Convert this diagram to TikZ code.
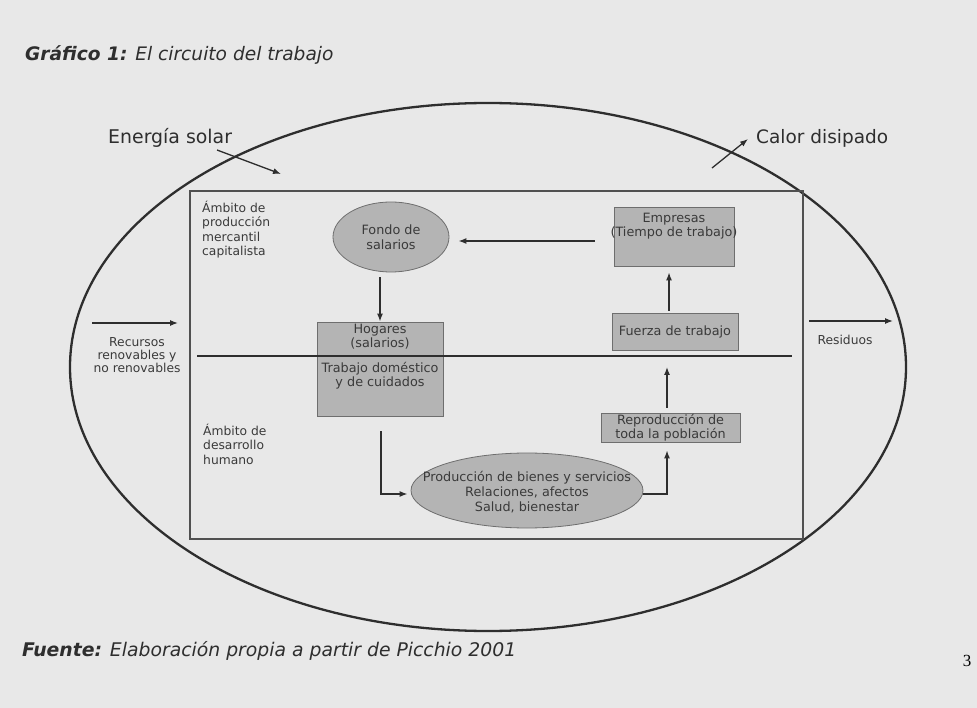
\documentclass[tikz,border=0pt]{standalone}
\usepackage{fontspec}
\setmainfont{DejaVu Sans}[BoldFont={DejaVu Sans Bold},ItalicFont={DejaVu Sans Oblique},BoldItalicFont={DejaVu Sans Bold Oblique}]
\newfontfamily\pagefont{Liberation Serif}
\usetikzlibrary{shapes.geometric,arrows.meta}
\definecolor{bg}{HTML}{E8E8E8}
\definecolor{ink}{HTML}{2E2E2E}
\definecolor{framec}{HTML}{505050}
\definecolor{boxfill}{HTML}{B4B4B4}
\definecolor{boxline}{HTML}{6E6E6E}
\definecolor{txt}{HTML}{3A3A3A}
\begin{document}
\begin{tikzpicture}[x=1pt,y=-1pt,
  lbl/.style={font=\fontsize{12.3}{14.3}\selectfont, text=txt, align=center, inner sep=0pt},
  blbl/.style={lbl, font=\fontsize{12.8}{14.5}\selectfont},
  lblleft/.style={lbl, align=left},
  gbox/.style={draw=boxline, fill=boxfill, line width=0.8pt, inner sep=0pt},
  arr/.style={draw=ink, line width=1.3pt, -{Latex[length=8pt,width=6pt]}},
  bigtext/.style={font=\fontsize{18.9}{22}\selectfont, text=ink, inner sep=0pt}]
\fill[bg] (0,0) rectangle (977,708);
\useasboundingbox (0,0) rectangle (977,708);

% title
\node[anchor=west, font=\fontsize{18.6}{22}\selectfont, text=ink, inner sep=0pt] (title) at (25,55)
  {\textbf{\textit{Gráfico 1:}} \textit{El circuito del trabajo}};

% world ellipse and frame
\node[ellipse, draw=ink, line width=2.3pt, minimum width=836pt, minimum height=528pt, inner sep=0pt] (world) at (488,367) {};
\node[draw=framec, line width=1.6pt, minimum width=613pt, minimum height=348pt, inner sep=0pt] (frame) at (496.5,365) {};

% boxes
\node[gbox, ellipse, minimum width=116pt, minimum height=70pt] (fondo) at (391,237) {};
\node[blbl] (fondotxt) at (fondo.center) {Fondo de\\salarios};
\node[gbox, minimum width=120pt, minimum height=59pt] (emp) at (674,236.5) {};
\node[blbl, anchor=north] (emptxt) at ([yshift=-6pt]emp.north) {Empresas\\(Tiempo de trabajo)};
\node[gbox, minimum width=126pt, minimum height=37pt] (fuerza) at (675,331.5) {};
\node[blbl] (fuerzatxt) at (fuerza.center) {Fuerza de trabajo};
\node[gbox, minimum width=126pt, minimum height=94pt] (hog) at (380,369) {};
\node[blbl] (hogtxt) at (380,336.5) {Hogares\\(salarios)};
\node[blbl] (trabtxt) at (380,375.5) {Trabajo doméstico\\y de cuidados};
\node[gbox, minimum width=139pt, minimum height=29pt] (rep) at (670.5,427.5) {};
\node[blbl, font=\fontsize{12.8}{14}\selectfont] (reptxt) at (rep.center) {Reproducción de\\toda la población};
\node[gbox, ellipse, minimum width=232pt, minimum height=75pt] (prod) at (527,490.5) {};
\node[blbl, font=\fontsize{12.8}{15}\selectfont] (prodtxt) at (527,492)
  {Producción de bienes y servicios\\Relaciones, afectos\\Salud, bienestar};

% dividing line
\coordinate (divL) at (197,356);
\coordinate (divR) at (792,356);
\draw[draw=ink, line width=1.8pt] (divL) -- (divR);

% labels
\node[lblleft, anchor=north west] (amb1) at (202,201) {Ámbito de\\producción\\mercantil\\capitalista};
\node[lblleft, anchor=north west] (amb2) at (203,424) {Ámbito de\\desarrollo\\humano};
\node[lbl, font=\fontsize{12.3}{12.8}\selectfont] (recursos) at (137,355) {Recursos\\renovables y\\no renovables};
\node[lbl] (residuos) at (845,340) {Residuos};
\node[bigtext, anchor=west] (solar) at (108,138) {Energía solar};
\node[bigtext, anchor=west, font=\fontsize{18.5}{22}\selectfont] (calor) at (756,138) {Calor disipado};

% connectors
\draw[arr] ([xshift=-19pt,yshift=-4.5pt]emp.west) -- ([xshift=9pt,yshift=-4pt]fondo.east);
\draw[arr] (fondo.south -| hog.north) ++(0,5) -- (hog.north);
\draw[arr, shorten <=2pt, shorten >=6pt] ([xshift=-6pt]fuerza.north) -- ([xshift=-5pt]emp.south);
\coordinate (reptip) at (667,367);
\draw[arr] ([xshift=-3.5pt,yshift=5pt]rep.north) -- (reptip);
\draw[arr] ([xshift=1pt,yshift=-15pt]hog.south) |- ([xshift=-3pt,yshift=-3.5pt]prod.west);
\draw[arr] ([yshift=-3.5pt]prod.east) -| ([xshift=-3.5pt,yshift=-8pt]rep.south);

\coordinate (solarA) at (217,150);
\coordinate (solarB) at (281,174);
\draw[arr] (solarA) -- (solarB);
\coordinate (calorA) at (712,168);
\coordinate (calorB) at (748,139);
\draw[arr] (calorA) -- (calorB);
\coordinate (recA) at (92,323);
\coordinate (recB) at (178,323);
\draw[arr] (recA) -- (recB);
\coordinate (resA) at (809,321);
\coordinate (resB) at (893,321);
\draw[arr] (resA) -- (resB);

% source and page number
\node[anchor=west, font=\fontsize{18.8}{22}\selectfont, text=ink, inner sep=0pt] (fuente) at (22,651)
  {\textbf{\textit{Fuente:}} \textit{Elaboración propia a partir de Picchio 2001}};
\node[font=\pagefont\fontsize{17}{20}\selectfont, inner sep=0pt] (pnum) at (967,661) {3};
\end{tikzpicture}
\end{document}
